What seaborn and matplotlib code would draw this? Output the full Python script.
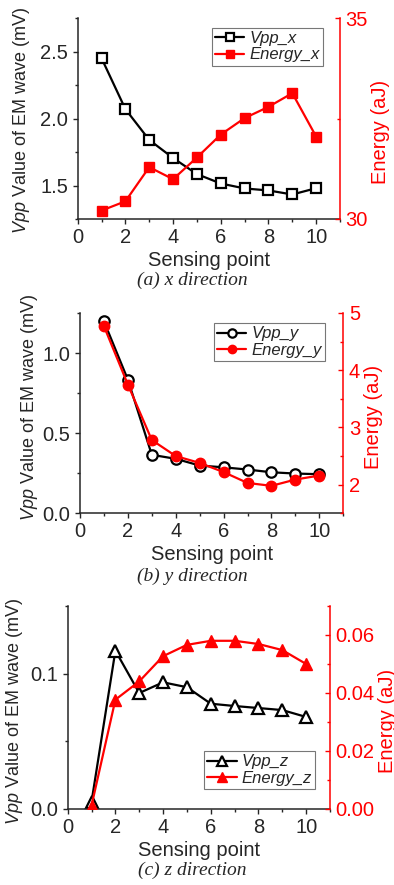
import numpy as np
import seaborn as sns
import matplotlib
matplotlib.use("Agg")
import matplotlib.pyplot as plt
from matplotlib.ticker import MultipleLocator, FormatStrFormatter

# data
points = [1, 2, 3, 4, 5, 6, 7, 8, 9, 10]
vpp_x = [2.45, 2.07, 1.84, 1.705, 1.585, 1.515, 1.478, 1.463, 1.433, 1.48]
energy_x = [30.21, 30.44, 31.29, 30.99, 31.53, 32.10, 32.51, 32.79, 33.13, 32.05]
vpp_y = [1.198, 0.834, 0.365, 0.34, 0.298, 0.287, 0.273, 0.256, 0.248, 0.244]
energy_y = [4.77, 3.75, 2.78, 2.50, 2.38, 2.22, 2.03, 1.98, 2.09, 2.16]
vpp_z = [0.0054, 0.117, 0.0857, 0.0936, 0.090, 0.0778, 0.0761, 0.0746, 0.0731, 0.068]
energy_z = [0.0012, 0.0377, 0.044, 0.0527, 0.0566, 0.058, 0.058, 0.0569, 0.0548, 0.050]

sns.set_style("ticks")
plt.rcParams['font.family'] = ['Liberation Sans', 'DejaVu Sans']
plt.rcParams['mathtext.fontset'] = 'custom'
plt.rcParams['mathtext.it'] = 'Liberation Sans:italic'
plt.rcParams['mathtext.rm'] = 'Liberation Sans'

FS = 14.5
RED = '#ff0000'

W, H = 394, 885
fig = plt.figure(figsize=(W / 100, H / 100), dpi=100)

# per panel: axes box in px (l, t, r, b), data, limits, tick steps, legend corner, caption
panels = [
    dict(box=(77.7, 18, 340, 219), vpp=vpp_x, en=energy_x, names=('Vpp_x', 'Energy_x'),
         ylim=(1.25, 2.75), ystep=(0.5, 0.25), yfmt='%.1f',
         rlim=(30, 35), rstep=(5, 2.5), rfmt='%d', marker='s', ms=7,
         leg=(212, 27.5), cap='(a) x direction', cap_y=280,
         llab=(31.7, 0.488), rlab=(371, 0.434)),
    dict(box=(80, 313, 343.3, 513.3), vpp=vpp_y, en=energy_y, names=('Vpp_y', 'Energy_y'),
         ylim=(0, 1.25), ystep=(0.5, 0.25), yfmt='%.1f',
         rlim=(1.5, 5), rstep=(1, 0.5), rfmt='%d', marker='o', ms=7.5,
         leg=(214, 323), cap='(b) y direction', cap_y=576,
         llab=(40, 0.526), rlab=(364, 0.482)),
    dict(box=(67.7, 606, 330, 809), vpp=vpp_z, en=energy_z, names=('Vpp_z', 'Energy_z'),
         ylim=(0, 0.15), ystep=(0.1, 0.05), yfmt='%.1f',
         rlim=(0, 0.07), rstep=(0.02, 0.01), rfmt='%.2f', marker='^', ms=8.5,
         leg=(204, 751), cap='(c) z direction', cap_y=870,
         llab=(25, 0.479), rlab=(378, 0.433)),
]

for p in panels:
    l, t, r, b = p['box']
    ax = fig.add_axes([l / W, 1 - b / H, (r - l) / W, (b - t) / H])
    ax2 = ax.twinx()

    sns.lineplot(x=points, y=p['vpp'], ax=ax, color='black', lw=1.6,
                 marker=p['marker'], markersize=p['ms'], markerfacecolor='white',
                 markeredgecolor='black', markeredgewidth=1.6, label=p['names'][0], legend=False)
    sns.lineplot(x=points, y=p['en'], ax=ax2, color=RED, lw=1.6,
                 marker=p['marker'], markersize=p['ms'], markerfacecolor=RED,
                 markeredgecolor=RED, markeredgewidth=1.0, label=p['names'][1], legend=False)

    ax.set_xlim(0, 11)
    ax.set_ylim(*p['ylim'])
    ax2.set_ylim(*p['rlim'])

    ax.xaxis.set_major_locator(MultipleLocator(2))
    ax.xaxis.set_minor_locator(MultipleLocator(1))
    ax.yaxis.set_major_locator(MultipleLocator(p['ystep'][0]))
    ax.yaxis.set_minor_locator(MultipleLocator(p['ystep'][1]))
    ax.yaxis.set_major_formatter(FormatStrFormatter(p['yfmt']))
    ax2.yaxis.set_major_locator(MultipleLocator(p['rstep'][0]))
    ax2.yaxis.set_minor_locator(MultipleLocator(p['rstep'][1]))
    ax2.yaxis.set_major_formatter(FormatStrFormatter(p['rfmt']))

    for a in (ax, ax2):
        a.spines['top'].set_visible(False)
        for s in a.spines.values():
            s.set_linewidth(1.1)
    ax.spines['right'].set_visible(False)
    ax2.spines['left'].set_visible(False)
    ax2.spines['bottom'].set_visible(False)
    ax2.spines['right'].set_color(RED)

    ax.tick_params(axis='y', which='major', direction='out', length=3.5, width=1.0,
                   labelsize=FS, pad=3.5)
    ax.tick_params(axis='x', which='major', direction='out', length=3.5, width=1.0,
                   labelsize=FS, pad=3)
    ax.tick_params(which='minor', direction='out', length=2.2, width=1.0)
    ax2.tick_params(which='major', direction='in', length=3.5, width=1.0, labelsize=FS,
                    colors=RED, pad=4)
    ax2.tick_params(which='minor', direction='in', length=2.2, width=1.0, colors=RED)

    ax.set_xlabel('Sensing point', fontsize=FS, labelpad=2.5)
    ax.set_ylabel(r'$\mathit{Vpp}$ Value of EM wave (mV)', fontsize=13)
    ax.yaxis.set_label_coords((p['llab'][0] - l) / (r - l), p['llab'][1])
    ax2.set_ylabel('Energy (aJ)', fontsize=FS, color=RED)
    ax2.yaxis.set_label_coords((p['rlab'][0] - l) / (r - l), p['rlab'][1])

    h1, lb1 = ax.get_legend_handles_labels()
    h2, lb2 = ax2.get_legend_handles_labels()
    lx, ly = p['leg']
    leg = ax2.legend(h1 + h2, lb1 + lb2, loc='upper left',
                     bbox_to_anchor=(lx / W, 1 - ly / H), bbox_transform=fig.transFigure,
                     prop={'family': 'Liberation Sans', 'style': 'italic', 'size': 12},
                     frameon=True, fancybox=False, framealpha=1, edgecolor='#777777',
                     borderpad=0.2, handlelength=1.75, handletextpad=0.3, markerscale=0.8,
                     labelspacing=0.1, borderaxespad=0)
    leg.get_frame().set_linewidth(0.8)

    fig.text(192 / W, 1 - p['cap_y'] / H, p['cap'], ha='center', va='center',
             family=['Liberation Serif', 'DejaVu Serif'], style='italic', fontsize=14)

fig.savefig('out.png', dpi=100)
